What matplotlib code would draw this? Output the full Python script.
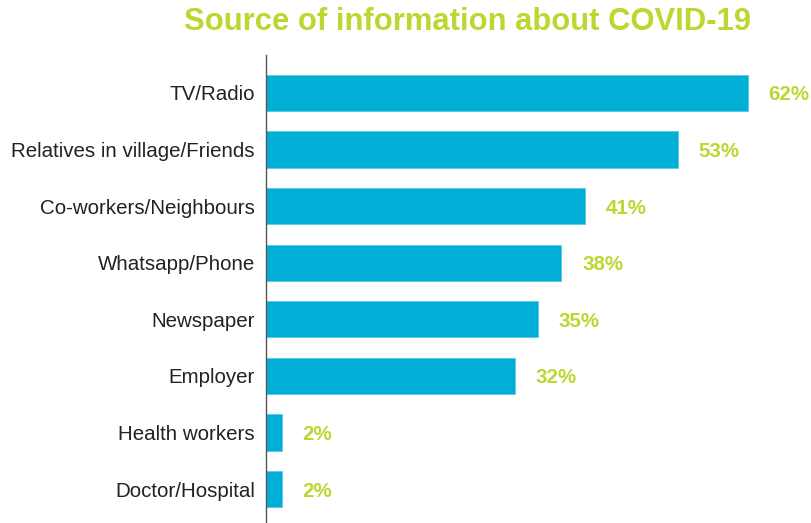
import matplotlib.pyplot as plt

categories = ["TV/Radio", "Relatives in village/Friends", "Co-workers/Neighbours",
              "Whatsapp/Phone", "Newspaper", "Employer", "Health workers",
              "Doctor/Hospital"]
values = [62, 53, 41, 38, 35, 32, 2, 2]
value_labels = ["62%", "53%", "41%", "38%", "35%", "32%", "2%", "2%"]

BAR_COLOR = "#00AED6"
ACCENT = "#BED62F"

plt.rcParams['font.family'] = ['Liberation Sans', 'DejaVu Sans']

fig = plt.figure(figsize=(8.12, 5.23), dpi=100)
ax = fig.add_axes([266 / 812, 0.0, 1 - 266 / 812, 1 - 55 / 523])

pos = list(range(len(categories)))
ax.barh(pos, values, height=0.64, color=BAR_COLOR, edgecolor="#5CC8E6", linewidth=0.6)

ax.set_xlim(0, 546 / 7.77)
ax.set_ylim(7.6, -0.67)

ax.set_yticks(pos)
ax.set_yticklabels(categories, fontsize=14.8, color="#222222")
ax.tick_params(axis='y', length=0, pad=8)
ax.set_xticks([])

for side in ("top", "right", "bottom"):
    ax.spines[side].set_visible(False)
ax.spines["left"].set_color("#555555")
ax.spines["left"].set_linewidth(1.0)

for p, v, lab in zip(pos, values, value_labels):
    ax.annotate(lab, xy=(v, p), xytext=(15, 0), textcoords="offset points",
                va="center_baseline", ha="left", fontsize=14.8, fontweight="bold",
                color=ACCENT)

fig.text(468 / 812, 1 - 22 / 523, "Source of information about COVID-19",
         ha="center", va="center", fontsize=22.3, fontweight="bold", color=ACCENT)

fig.savefig("out.png", dpi=100)
